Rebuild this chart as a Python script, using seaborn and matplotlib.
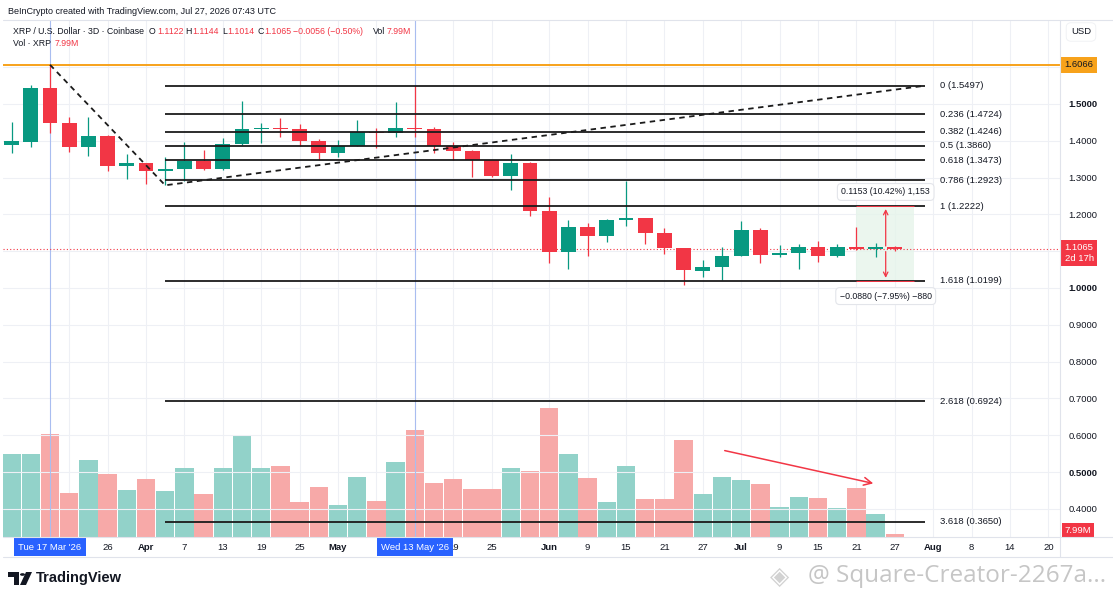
import numpy as np
import pandas as pd
import matplotlib
matplotlib.use("Agg")
import matplotlib.pyplot as plt
import matplotlib.dates as mdates
from matplotlib.patches import Rectangle, Polygon, Circle
import seaborn as sns

# 3D candles, XRP / USD (Coinbase)
dates = pd.date_range("2026-03-11", "2026-07-27", freq="3D")
opens = [1.388, 1.398, 1.543, 1.448, 1.384, 1.413, 1.332, 1.339, 1.318, 1.323,
         1.345, 1.323, 1.391, 1.432, 1.434, 1.431, 1.400, 1.368, 1.386, 1.425,
         1.421, 1.436, 1.432, 1.387, 1.372, 1.348, 1.305, 1.339, 1.209, 1.097,
         1.167, 1.141, 1.185, 1.189, 1.149, 1.108, 1.047, 1.058, 1.087, 1.158,
         1.090, 1.096, 1.111, 1.088, 1.111, 1.106, 1.1122]
highs = [1.452, 1.552, 1.6066, 1.464, 1.464, 1.415, 1.364, 1.340, 1.355, 1.396,
         1.375, 1.408, 1.509, 1.449, 1.461, 1.446, 1.404, 1.402, 1.457, 1.436,
         1.506, 1.549, 1.438, 1.396, 1.375, 1.349, 1.364, 1.343, 1.247, 1.185,
         1.176, 1.187, 1.292, 1.190, 1.162, 1.109, 1.076, 1.111, 1.182, 1.162,
         1.117, 1.120, 1.129, 1.120, 1.165, 1.123, 1.1144]
lows = [1.366, 1.384, 1.422, 1.370, 1.360, 1.318, 1.297, 1.282, 1.2791, 1.292,
        1.321, 1.321, 1.389, 1.393, 1.410, 1.386, 1.348, 1.355, 1.385, 1.380,
        1.411, 1.411, 1.366, 1.348, 1.301, 1.301, 1.266, 1.196, 1.069, 1.052,
        1.088, 1.124, 1.169, 1.120, 1.092, 1.008, 1.031, 1.022, 1.086, 1.069,
        1.083, 1.052, 1.070, 1.083, 1.103, 1.085, 1.1014]
closes = [1.399, 1.543, 1.448, 1.384, 1.413, 1.332, 1.339, 1.318, 1.323, 1.345,
          1.323, 1.391, 1.432, 1.434, 1.431, 1.400, 1.368, 1.386, 1.423, 1.421,
          1.436, 1.432, 1.387, 1.372, 1.348, 1.305, 1.339, 1.209, 1.097, 1.167,
          1.141, 1.185, 1.189, 1.149, 1.108, 1.049, 1.058, 1.087, 1.158, 1.090,
          1.096, 1.111, 1.088, 1.111, 1.106, 1.1122, 1.1065]
volumes = [194, 194, 243, 103, 180, 147, 111, 136, 108, 163, 100, 162, 237, 162,
           166, 82, 118, 75, 140, 84, 176, 251, 128, 137, 112, 112, 162, 154, 304,
           196, 138, 82, 166, 90, 89, 228, 100, 140, 133, 125, 71, 93, 91, 67, 115,
           55, 7.99]  # millions

fib_ratios = ["0", "0.236", "0.382", "0.5", "0.618", "0.786", "1", "1.618", "2.618", "3.618"]
fib_prices = [1.5497, 1.4724, 1.4246, 1.3860, 1.3473, 1.2923, 1.2222, 1.0199, 0.6924, 0.3650]
swing_high = 1.6066
swing_low = 1.2791
last_price = 1.1065

price_ticks = [0.4, 0.5, 0.6, 0.7, 0.8, 0.9, 1.0, 1.1, 1.2, 1.3, 1.4, 1.5, 1.6]
# labels under the price boxes are not shown
price_labels = ["0.4000", "0.5000", "0.6000", "0.7000", "0.8000", "0.9000", "1.0000",
                "", "1.2000", "1.3000", "1.4000", "1.5000", ""]
tick_dates = ["2026-03-20", "2026-03-26", "2026-04-01", "2026-04-07", "2026-04-13",
              "2026-04-19", "2026-04-25", "2026-05-01", "2026-05-07", "2026-05-13",
              "2026-05-19", "2026-05-25", "2026-06-03", "2026-06-09", "2026-06-15",
              "2026-06-21", "2026-06-27", "2026-07-03", "2026-07-09", "2026-07-15",
              "2026-07-21", "2026-07-27", "2026-08-02", "2026-08-08", "2026-08-14",
              "2026-08-20"]
# ticks hidden behind the crosshair date boxes are left blank
tick_labels = ["", "26", "Apr", "7", "13", "19", "25", "May", "", "", "19", "25",
               "Jun", "9", "15", "21", "27", "Jul", "9", "15", "21", "27", "Aug", "8",
               "14", "20"]

UP, DOWN = "#089981", "#f23645"
VOL_UP, VOL_DOWN = "#92d2c9", "#f7a9a8"
INK = "#131722"

sns.set_theme(style="white")
plt.rcParams["font.family"] = ["Liberation Sans", "DejaVu Sans"]

W, H = 1113, 600
fig = plt.figure(figsize=(W / 100, H / 100), dpi=100)


def fx(px):
    return px / W


def fy(py):
    return 1 - py / H


ax_vol = fig.add_axes([fx(3), fy(537), (1060 - 3) / W, (537 - 20) / H])
ax = ax_vol.twinx()

dnum = mdates.date2num(dates.to_pydatetime())
ref = mdates.date2num(pd.Timestamp("2026-03-17"))
px_day = 6.4

# volume (overlay, bottom)
vol_df = pd.DataFrame({
    "t": dnum,
    "vol": volumes,
    "dir": np.where(np.array(closes) >= np.array(opens), "up", "down"),
})
sns.barplot(data=vol_df, x="t", y="vol", hue="dir",
            palette={"up": VOL_UP, "down": VOL_DOWN}, native_scale=True,
            dodge=False, width=0.95, errorbar=None, saturation=1,
            legend=False, linewidth=0, ax=ax_vol)
ax_vol.set_ylim(0, 1215)
ax_vol.set_yticks([])
ax_vol.set_xlabel("")
ax_vol.set_ylabel("")

# candles
o = np.array(opens)
c = np.array(closes)
cols = [UP if cc >= oo else DOWN for oo, cc in zip(o, c)]
bottoms = np.minimum(o, c)
heights = np.maximum(np.abs(c - o), 0.0025)
ax.vlines(dnum, lows, highs, colors=cols, lw=0.9, zorder=3)
ax.bar(dnum, heights, bottom=bottoms, width=2.3, color=cols, zorder=4, linewidth=0)

x_left = ref - 47 / px_day
x_right = ref + 1010 / px_day
ax_vol.set_xlim(x_left, x_right)
ax.set_ylim(0.32337, 1.72826)

# grid
ax_vol.set_xticks(mdates.date2num(pd.to_datetime(tick_dates).to_pydatetime()))
ax_vol.set_xticklabels(tick_labels)
ax_vol.grid(axis="x", color="#eef0f5", lw=0.8)
ax.set_yticks(price_ticks)
ax.set_yticklabels(price_labels)
ax.grid(axis="y", color="#eef0f5", lw=0.8, zorder=0)
ax_vol.tick_params(axis="x", length=0, pad=4.5, labelsize=6.8, labelcolor=INK)
ax.tick_params(axis="y", length=0, pad=6, labelsize=6.8, labelcolor=INK)
for lab in ax_vol.get_xticklabels():
    if lab.get_text() in ("Apr", "May", "Jun", "Jul", "Aug"):
        lab.set_fontweight("bold")
for lab in ax.get_yticklabels():
    if lab.get_text() in ("0.5000", "1.0000", "1.5000"):
        lab.set_fontweight("bold")

for a in (ax, ax_vol):
    for s in a.spines.values():
        s.set_visible(False)

# crosshair lines
for d in ("2026-03-17", "2026-05-13"):
    ax.axvline(mdates.date2num(pd.Timestamp(d)), color="#a9bdf0", lw=0.8, zorder=1)

# orange swing-high line and last price dotted line
ax.axhline(swing_high, color="#f7a21b", lw=1.4, zorder=2)
ax.axhline(last_price, color=DOWN, lw=0.8, ls=(0, (1, 2)), zorder=2)

# fib extension levels
fib_x0 = mdates.date2num(pd.Timestamp("2026-04-04"))
fib_x1 = ref + (925 - 50) / px_day
ax.hlines(fib_prices, fib_x0, fib_x1, color="#1b1b1b", lw=1.3, zorder=5)
for r, p in zip(fib_ratios, fib_prices):
    ax.text(fib_x1 + 15 / px_day, p, f"{r} ({p:.4f})", fontsize=6.8, color=INK,
            va="center", ha="left", zorder=6)
ax.plot([ref, fib_x0, fib_x1], [swing_high, swing_low, fib_prices[0]],
        color="#1b1b1b", lw=1.3, ls=(0, (3, 2.5)), zorder=5)

# measure box
mx0 = ref + (856 - 50) / px_day
mx1 = ref + (914 - 50) / px_day
mxa = ref + (885.7 - 50) / px_day
ax.add_patch(Rectangle((mx0, fib_prices[7]), mx1 - mx0, fib_prices[6] - fib_prices[7],
                       facecolor="#e6f4ea", alpha=0.8, edgecolor="none", zorder=1))
ax.hlines([fib_prices[6], fib_prices[7]], mx0, mx1, color=DOWN, lw=0.7, zorder=6)
for tgt in (fib_prices[6], fib_prices[7]):
    ax.annotate("", xy=(mxa, tgt), xytext=(mxa, last_price),
                arrowprops=dict(arrowstyle="->", color=DOWN, lw=0.9,
                                mutation_scale=8), zorder=6)
box = dict(boxstyle="round,pad=0.45", facecolor="white", edgecolor="#e3e5ea", lw=0.8)
ax.text(mxa, 1.2609, "0.1153 (10.42%) 1,153", fontsize=6.3, color=INK,
        ha="center", va="center", bbox=box, zorder=7)
ax.text(mxa, 0.978, "\u22120.0880 (\u22127.95%) \u2212880", fontsize=6.3, color=INK,
        ha="center", va="center", bbox=box, zorder=7)

# volume trend arrow
ax.annotate("", xy=(ref + 129.06, 0.4674), xytext=(ref + 105.0, 0.5598),
            arrowprops=dict(arrowstyle="->", color=DOWN, lw=1.1,
                            mutation_scale=14), zorder=6)

# right scale boxes
ytr = ax.get_yaxis_transform()
ax.text(1.0045, swing_high, "1.6066", transform=ytr, fontsize=6.8, color=INK,
        ha="left", va="center",
        bbox=dict(boxstyle="square,pad=0.35", facecolor="#f7a21b", edgecolor="none"),
        zorder=10, clip_on=False)
ax.text(1.0045, 1.0951, "1.1065\n2d 17h", transform=ytr, fontsize=6.8, color="white",
        ha="left", va="center", linespacing=1.15,
        bbox=dict(boxstyle="square,pad=0.35", facecolor=DOWN, edgecolor="none"),
        zorder=10, clip_on=False)
ax_vol.text(1.0045, 0.0135, "7.99M", transform=ax_vol.transAxes, fontsize=6.8,
            color="white", ha="left", va="center",
            bbox=dict(boxstyle="square,pad=0.3", facecolor=DOWN, edgecolor="none"),
            zorder=10, clip_on=False)

# highlighted dates on time scale
xtr = ax_vol.get_xaxis_transform()
for d, lab in (("2026-03-17", "Tue 17 Mar '26"), ("2026-05-13", "Wed 13 May '26")):
    ax_vol.text(mdates.date2num(pd.Timestamp(d)), -10 / 517, lab, transform=xtr,
                fontsize=6.8, color="white", ha="center", va="center",
                bbox=dict(boxstyle="square,pad=0.45", facecolor="#2962ff", edgecolor="none"),
                zorder=10, clip_on=False)

# pane borders
fig.add_artist(plt.Line2D([fx(3), fx(1113)], [fy(537), fy(537)], color="#e0e3eb", lw=0.8))
fig.add_artist(plt.Line2D([fx(1060), fx(1060)], [fy(20), fy(557)], color="#e0e3eb", lw=0.8))
fig.add_artist(plt.Line2D([fx(3), fx(1113)], [fy(20), fy(20)], color="#e0e3eb", lw=0.8))
fig.add_artist(plt.Line2D([fx(3), fx(1113)], [fy(557), fy(557)], color="#e0e3eb", lw=0.8))

# header texts
fig.text(fx(8), fy(12), "BeInCrypto created with TradingView.com, Jul 27, 2026 07:43 UTC",
         fontsize=6.5, color=INK, va="center")
fig.text(fx(13), fy(31), "XRP / U.S. Dollar \u00b7 3D \u00b7 Coinbase", fontsize=6.3,
         color=INK, va="center")
legend_parts = [(149, "O", INK), (157, "1.1122", DOWN), (185, "H", INK), (192, "1.1144", DOWN),
                (222, "L", INK), (227, "1.1014", DOWN), (257, "C", INK), (264, "1.1065", DOWN),
                (293, "\u22120.0056 (\u22120.50%)", DOWN), (373, "Vol", INK), (387, "7.99M", DOWN)]
for xp, txt, col in legend_parts:
    fig.text(fx(xp), fy(31), txt, fontsize=6.3, color=col, va="center")
fig.text(fx(13), fy(43), "Vol \u00b7 XRP", fontsize=6.3, color=INK, va="center")
fig.text(fx(55), fy(43), "7.99M", fontsize=6.3, color=DOWN, va="center")
fig.text(fx(1081), fy(32), "USD", fontsize=6.8, color=INK, va="center", ha="center",
         bbox=dict(boxstyle="round,pad=0.5", facecolor="white", edgecolor="#eef0f3", lw=0.6))

# TradingView logo
fig.add_artist(Polygon([(fx(8), fy(572)), (fx(19), fy(572)), (fx(19), fy(585)),
                        (fx(14), fy(585)), (fx(14), fy(577)), (fx(8), fy(577))],
                       closed=True, facecolor=INK, edgecolor="none"))
fig.add_artist(Circle((fx(22.5), fy(574.5)), 2.5 / W, facecolor=INK, edgecolor="none"))
fig.add_artist(Polygon([(fx(26), fy(572)), (fx(32), fy(572)), (fx(26), fy(585)),
                        (fx(20), fy(585))], closed=True, facecolor=INK, edgecolor="none"))
fig.text(fx(36), fy(578), "TradingView", fontsize=10.5, fontweight="bold", color=INK,
         va="center")

# watermark
fig.text(fx(770), fy(577), "\u25c8", fontsize=18, color="#d2d2d2", va="center",
         family=["DejaVu Sans"])
fig.text(fx(808), fy(576), "@ Square-Creator-2267a...", fontsize=17.5, color="#c6c6c6",
         va="center", family=["Open Sans", "DejaVu Sans"])

fig.savefig("out.png", dpi=100, facecolor="white")
